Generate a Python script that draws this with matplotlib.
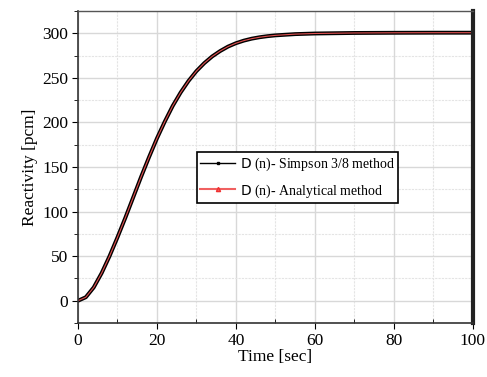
#!/usr/bin/env python3

import matplotlib
matplotlib.use('Agg')
import matplotlib.pyplot as plt
from matplotlib.ticker import MultipleLocator
from matplotlib.lines import Line2D

# values
timeSec = [0, 2, 4, 6, 8, 10, 12, 14, 16, 18, 20, 22, 24, 26, 28, 30, 32,
           34, 36, 38, 40, 42, 44, 46, 48, 50, 55, 60, 70, 80, 90, 100]
simpson = [0, 4, 15, 31, 50, 71, 93, 116, 139, 161, 182, 201, 218.5, 233.5,
           246.5, 257.5, 266.5, 274, 280, 285, 288.8, 291.7, 293.9, 295.5,
           296.7, 297.6, 299, 299.7, 300.3, 300.5, 300.6, 300.6]
analytical = list(simpson)

labelSimpson = r"$\mathsf{D}$ (n)- Simpson 3/8 method"
labelAnalytical = r"$\mathsf{D}$ (n)- Analytical method"

plt.rcParams['font.family'] = ['Liberation Serif', 'DejaVu Serif']
plt.rcParams['mathtext.fontset'] = 'dejavusans'

fig = plt.figure(figsize=(4.87, 3.77), dpi=100)
ax = fig.add_axes([0.160, 0.143, 0.811, 0.828])

ax.plot(timeSec, simpson, color="black", lw=2.8, label=labelSimpson,
        solid_capstyle='round')
ax.plot(timeSec, analytical, color="#e05050", lw=0.8, label=labelAnalytical)

ax.set_xlim(0, 100)
ax.set_ylim(-25, 325)
ax.xaxis.set_major_locator(MultipleLocator(20))
ax.xaxis.set_minor_locator(MultipleLocator(10))
ax.yaxis.set_major_locator(MultipleLocator(50))
ax.yaxis.set_minor_locator(MultipleLocator(25))

ax.grid(which='major', color="#d8d8d8", lw=1.0)
ax.grid(which='minor', color="#e4e4e4", lw=0.8, ls=(0, (2, 1)))
ax.set_axisbelow(True)

ax.tick_params(axis='x', which='major', direction='out', length=4, labelsize=12.5, pad=3)
ax.tick_params(axis='x', which='minor', direction='in', length=3)
ax.tick_params(axis='y', which='both', direction='out', labelsize=12.5, pad=3)
ax.tick_params(axis='y', which='major', length=4)
ax.tick_params(axis='y', which='minor', length=3)

for side in ["left", "bottom"]:
    ax.spines[side].set_color("#333333")
    ax.spines[side].set_linewidth(1.2)
ax.spines["top"].set_color("#555555")
ax.spines["top"].set_linewidth(1.0)
ax.spines["right"].set_color("#222222")
ax.spines["right"].set_linewidth(3)

ax.set_xlabel("Time [sec]", fontsize=12.5, labelpad=0)
ax.set_ylabel("Reactivity [pcm]", fontsize=12.5, labelpad=3)

# legend markers drawn as small proxies
handles = [Line2D([], [], color="black", lw=1, marker='s', markersize=2),
           Line2D([], [], color="#f06060", lw=1.5, marker='^', markersize=3,
                  markeredgecolor="#f03030")]
leg = ax.legend(handles, [labelSimpson, labelAnalytical],
                loc="upper left", bbox_to_anchor=(0.301, 0.547),
                fontsize=10, frameon=True, fancybox=False,
                handlelength=2.5, handletextpad=0.35, borderpad=0.25,
                labelspacing=0.65, borderaxespad=0)
leg.get_frame().set_edgecolor("black")
leg.get_frame().set_linewidth(1.2)
leg.get_frame().set_alpha(1)

plt.savefig("out.png", dpi=100)
